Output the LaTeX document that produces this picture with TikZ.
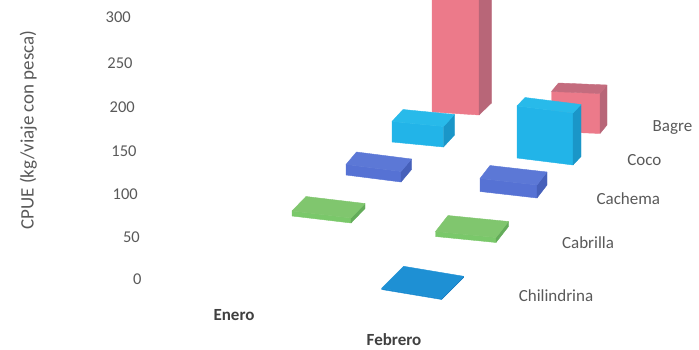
\documentclass[tikz,border=0pt]{standalone}
\usepackage{fontspec}
\setmainfont{Carlito}
\definecolor{txt}{RGB}{89,89,89}
\definecolor{txtb}{RGB}{64,64,64}
\definecolor{pinkF}{RGB}{236,122,138}
\definecolor{pinkS}{RGB}{184,102,120}
\definecolor{pinkT}{RGB}{196,108,126}
\definecolor{cocoF}{RGB}{34,180,232}
\definecolor{cocoS}{RGB}{26,150,200}
\definecolor{cocoT}{RGB}{40,186,234}
\definecolor{cachF}{RGB}{86,114,212}
\definecolor{cachS}{RGB}{70,96,186}
\definecolor{cachT}{RGB}{92,120,214}
\definecolor{cabrF}{RGB}{122,200,106}
\definecolor{cabrS}{RGB}{100,172,90}
\definecolor{cabrT}{RGB}{128,198,110}
\definecolor{chilF}{RGB}{26,138,208}
\definecolor{chilS}{RGB}{22,120,190}
\definecolor{chilT}{RGB}{30,144,212}
\newcommand\cuboid[8]{%
 \filldraw[fill=#1F, draw=#1F, line width=0.4pt, line join=round] (#2,#3) -- (#4,#5) -- ({#4},{#5-(#6)}) -- ({#2},{#3-(#6)}) -- cycle;
 \filldraw[fill=#1S, draw=#1S, line width=0.4pt, line join=round] (#4,#5) -- ({#4+(#7)},{#5+(#8)}) -- ({#4+(#7)},{#5+(#8)-(#6)}) -- ({#4},{#5-(#6)}) -- cycle;
 \filldraw[fill=#1T, draw=#1T, line width=0.4pt, line join=round] ({#2},{#3-(#6)}) -- ({#4},{#5-(#6)}) -- ({#4+(#7)},{#5+(#8)-(#6)}) -- ({#2+(#7)},{#3+(#8)-(#6)}) -- cycle;
}
\tikzset{
 tick/.style={anchor=east, text=txt, font=\fontsize{16.5}{19}\selectfont, inner sep=0pt},
 series/.style={text=txt, font=\fontsize{17}{20}\selectfont, inner sep=0pt},
 ytit/.style={text=txt, font=\fontsize{19}{22}\selectfont, inner sep=0pt, rotate=90},
 cat/.style={text=txtb, font=\fontsize{17}{20}\selectfont\bfseries, inner sep=0pt}
}
\begin{document}
\begin{tikzpicture}[x=1pt,y=-1pt]
\useasboundingbox (0,0) rectangle (699,349);
\begin{scope}
\clip (0,0) rectangle (699,349);
% Bagre
\cuboid{pink}{432}{112}{479}{115}{160}{12.5}{-12}
\cuboid{pink}{551.5}{131.5}{600}{133.5}{40}{7}{-8.5}
% Coco
\cuboid{coco}{392}{142}{443.5}{147}{20.5}{11}{-12}
\cuboid{coco}{517}{158}{573}{165}{52}{8}{-8.5}
% Cachema
\cuboid{cach}{346}{175}{401}{182}{10.5}{10.5}{-12.5}
\cuboid{cach}{480}{191.5}{537}{198}{13}{10}{-13}
% Cabrilla
\cuboid{cabr}{292}{216}{351}{223}{5}{14}{-14.5}
\cuboid{cabr}{435.5}{236.5}{496}{242.5}{5}{12.5}{-16}
% Chilindrina
\cuboid{chil}{381.7}{289.5}{441.7}{299.5}{1.2}{22}{-22}
\end{scope}
% axis ticks
\node[tick] (t300) at (131,17.3) {300};
\node[tick] (t250) at (132.7,62.7) {250};
\node[tick] (t200) at (135,106.7) {200};
\node[tick] (t150) at (136.7,150.7) {150};
\node[tick] (t100) at (138,194.3) {100};
\node[tick] (t50) at (140,236.7) {50};
\node[tick] (t0) at (141.7,279.3) {0};
\node[ytit] (ytitle) at (28.3,130) {CPUE (kg/viaje con pesca)};
% categories
\node[cat] (enero) at (234,315) {Enero};
\node[cat] (febrero) at (394,340) {Febrero};
% series labels
\node[series] (bagre) at (672.5,127.7) {Bagre};
\node[series] (coco) at (644.3,160) {Coco};
\node[series] (cachema) at (628.3,199) {Cachema};
\node[series] (cabrilla) at (588,242.7) {Cabrilla};
\node[series] (chilindrina) at (556,296) {Chilindrina};
\end{tikzpicture}
\end{document}
